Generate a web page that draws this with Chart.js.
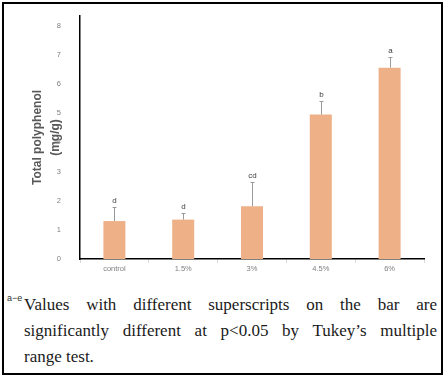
<!DOCTYPE html>
<html>
<head>
<meta charset="utf-8">
<script src="https://cdn.jsdelivr.net/npm/chart.js@4"></script>
<style>
  body { margin: 0; background: #fff; width: 446px; height: 378px; position: relative; overflow: hidden; }
  #frame { position: absolute; left: 2px; top: 2px; width: 441px; height: 373px; box-sizing: border-box; border: 2px solid #000; pointer-events: none; }
  #chartBox { position: absolute; left: 0; top: 0; }
  #note { position: absolute; left: 24px; top: 292px; width: 413px; font-family: "Liberation Serif", serif; font-size: 17px; line-height: 26px; color: #1a1a1a; }
  #note div { text-align: justify; text-align-last: justify; white-space: nowrap; }
  #note div.last { text-align: left; text-align-last: left; }
  #note .sup { position: absolute; left: -17px; top: 1px; font-family: "Liberation Sans", sans-serif; font-size: 9px; line-height: 10px; color: #333; }
</style>
</head>
<body>
<div id="chartBox"><canvas id="polyChart" width="446" height="285"></canvas></div>
<div id="note">
  <span class="sup">a−e</span>
  <div>Values with different superscripts on the bar are</div>
  <div>significantly different at p&lt;0.05 by Tukey’s multiple</div>
  <div class="last">range test.</div>
</div>
<div id="frame"></div>
<script>
// data
const categories = ['control', '1.5%', '3%', '4.5%', '6%'];
const polyphenol = [1.30, 1.35, 1.81, 4.95, 6.56];
const sd = [0.47, 0.22, 0.82, 0.46, 0.37];
const letters = ['d', 'd', 'cd', 'b', 'a'];
const yTicks = [0, 1, 2, 3, 4, 5, 6, 7, 8];

// error bars + superscript letters on top of each bar
const errorBars = {
    id: 'errorBars',
    afterDatasetsDraw(chart) {
        const ctx = chart.ctx;
        const x = chart.scales.x;
        const y = chart.scales.y;
        ctx.save();
        polyphenol.forEach((v, i) => {
            const cx = Math.round(x.getPixelForValue(i)) + 0.5;
            const base = y.getPixelForValue(v);
            const top = Math.round(y.getPixelForValue(v + sd[i])) + 0.5;
            ctx.strokeStyle = '#9a9a9a';
            ctx.lineWidth = 1;
            ctx.beginPath();
            ctx.moveTo(cx, base);
            ctx.lineTo(cx, top);
            ctx.moveTo(cx - 2, top);
            ctx.lineTo(cx + 2, top);
            ctx.stroke();
            ctx.fillStyle = '#404040';
            ctx.font = '8px "Liberation Sans", sans-serif';
            ctx.textAlign = 'center';
            ctx.textBaseline = 'bottom';
            ctx.fillText(letters[i], cx, top - 3);
        });
        ctx.restore();
    }
};

const ctx = document.getElementById('polyChart').getContext('2d');
const polyChart = new Chart(ctx, {
    type: 'bar',
    data: {
        labels: categories,
        datasets: [{
            label: 'Total polyphenol',
            data: polyphenol,
            backgroundColor: '#EDB087',
            borderWidth: 0,
            barPercentage: 0.32,
            categoryPercentage: 1
        }]
    },
    options: {
        responsive: false,
        animation: false,
        layout: { padding: { top: 16, right: 22, left: 0, bottom: 0 } },
        plugins: {
            legend: { display: false },
            tooltip: { enabled: false }
        },
        scales: {
            x: {
                grid: { drawOnChartArea: false, color: '#d9d9d9', tickLength: 4 },
                border: { color: '#000', width: 1.5 },
                ticks: {
                    color: '#7f7f7f',
                    padding: 1,
                    font: { family: 'Liberation Sans', size: 7.5 }
                },
                afterFit: function(scale) { scale.height = 26; }
            },
            y: {
                min: 0,
                max: 8.33,
                grid: { display: false },
                border: { color: '#000', width: 1.5 },
                afterBuildTicks: function(scale) {
                    scale.ticks = yTicks.map(v => ({ value: v }));
                },
                ticks: {
                    color: '#7f7f7f',
                    padding: 11,
                    font: { family: 'Liberation Sans', size: 7.5 }
                },
                title: {
                    display: true,
                    text: ['Total polyphenol', '(mg/g)'],
                    color: '#595959',
                    font: { family: 'Liberation Sans', size: 12, weight: 'bold', lineHeight: 1.5 },
                    padding: { top: 29, bottom: 0 }
                },
                afterFit: function(scale) { scale.width = 80; }
            }
        }
    },
    plugins: [errorBars]
});
</script>
</body>
</html>
